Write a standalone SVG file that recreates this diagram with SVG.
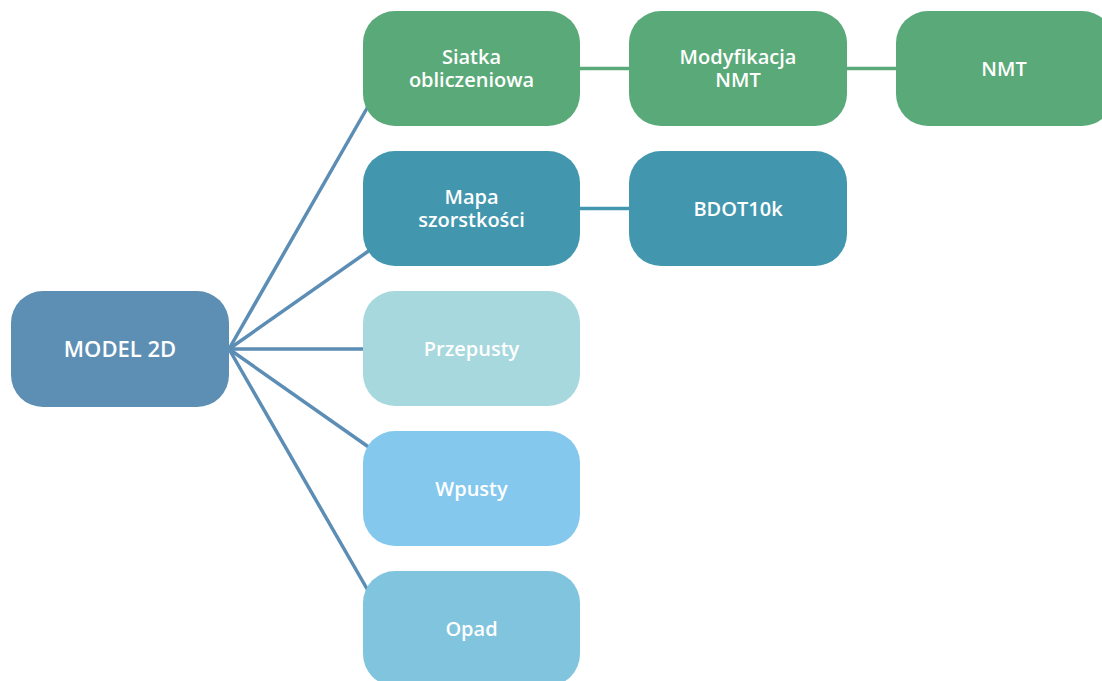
<svg xmlns="http://www.w3.org/2000/svg" width="1102" height="681" viewBox="0 0 1102 681">
<style>
text{font-family:"Open Sans","Noto Sans","Liberation Sans",sans-serif;font-weight:600;fill:#fff;text-anchor:middle;font-size:20px}
.big{font-size:22px}
.c{fill:none;stroke-width:3.5}
.b{stroke:#5b8db5}
.g{stroke:#5aa978}
.t{stroke:#4297ae}
</style>
<rect width="1102" height="681" fill="#fff"/>
<g id="connectors">
<line class="c b" x1="229" y1="349" x2="370" y2="103"/>
<line class="c b" x1="229" y1="349" x2="370" y2="250"/>
<line class="c b" x1="229" y1="349" x2="364" y2="349"/>
<line class="c b" x1="229" y1="349" x2="370" y2="448"/>
<line class="c b" x1="229" y1="349" x2="370" y2="594"/>
<line class="c g" x1="579" y1="68.5" x2="630" y2="68.5"/>
<line class="c g" x1="846" y1="68.5" x2="897" y2="68.5"/>
<line class="c t" x1="579" y1="208.5" x2="630" y2="208.5"/>
</g>
<g id="model2d"><rect x="11" y="291" width="218" height="116" rx="32" fill="#5d8fb4"/><text class="big" x="120" y="357">MODEL 2D</text></g>
<g id="siatka"><rect x="363" y="11" width="217" height="115" rx="32" fill="#5aa978"/><text x="471.5" y="64">Siatka</text><text x="471.5" y="87">obliczeniowa</text></g>
<g id="modyfikacja"><rect x="629" y="11" width="218" height="115" rx="32" fill="#5aa978"/><text x="738" y="64">Modyfikacja</text><text x="738" y="87">NMT</text></g>
<g id="nmt"><rect x="896" y="11" width="218" height="115" rx="32" fill="#5aa978"/><text x="1004" y="76">NMT</text></g>
<g id="mapa"><rect x="363" y="151" width="217" height="115" rx="32" fill="#4297ae"/><text x="471.5" y="204">Mapa</text><text x="471.5" y="227">szorstkości</text></g>
<g id="bdot"><rect x="629" y="151" width="218" height="115" rx="32" fill="#4297ae"/><text x="738" y="216">BDOT10k</text></g>
<g id="przepusty"><rect x="363" y="291" width="217" height="115" rx="32" fill="#a6d8dd"/><text x="471.5" y="356">Przepusty</text></g>
<g id="wpusty"><rect x="363" y="431" width="217" height="115" rx="32" fill="#84c8ee"/><text x="471.5" y="496">Wpusty</text></g>
<g id="opad"><rect x="363" y="571" width="217" height="115" rx="32" fill="#80c4dd"/><text x="471.5" y="636">Opad</text></g>
</svg>
